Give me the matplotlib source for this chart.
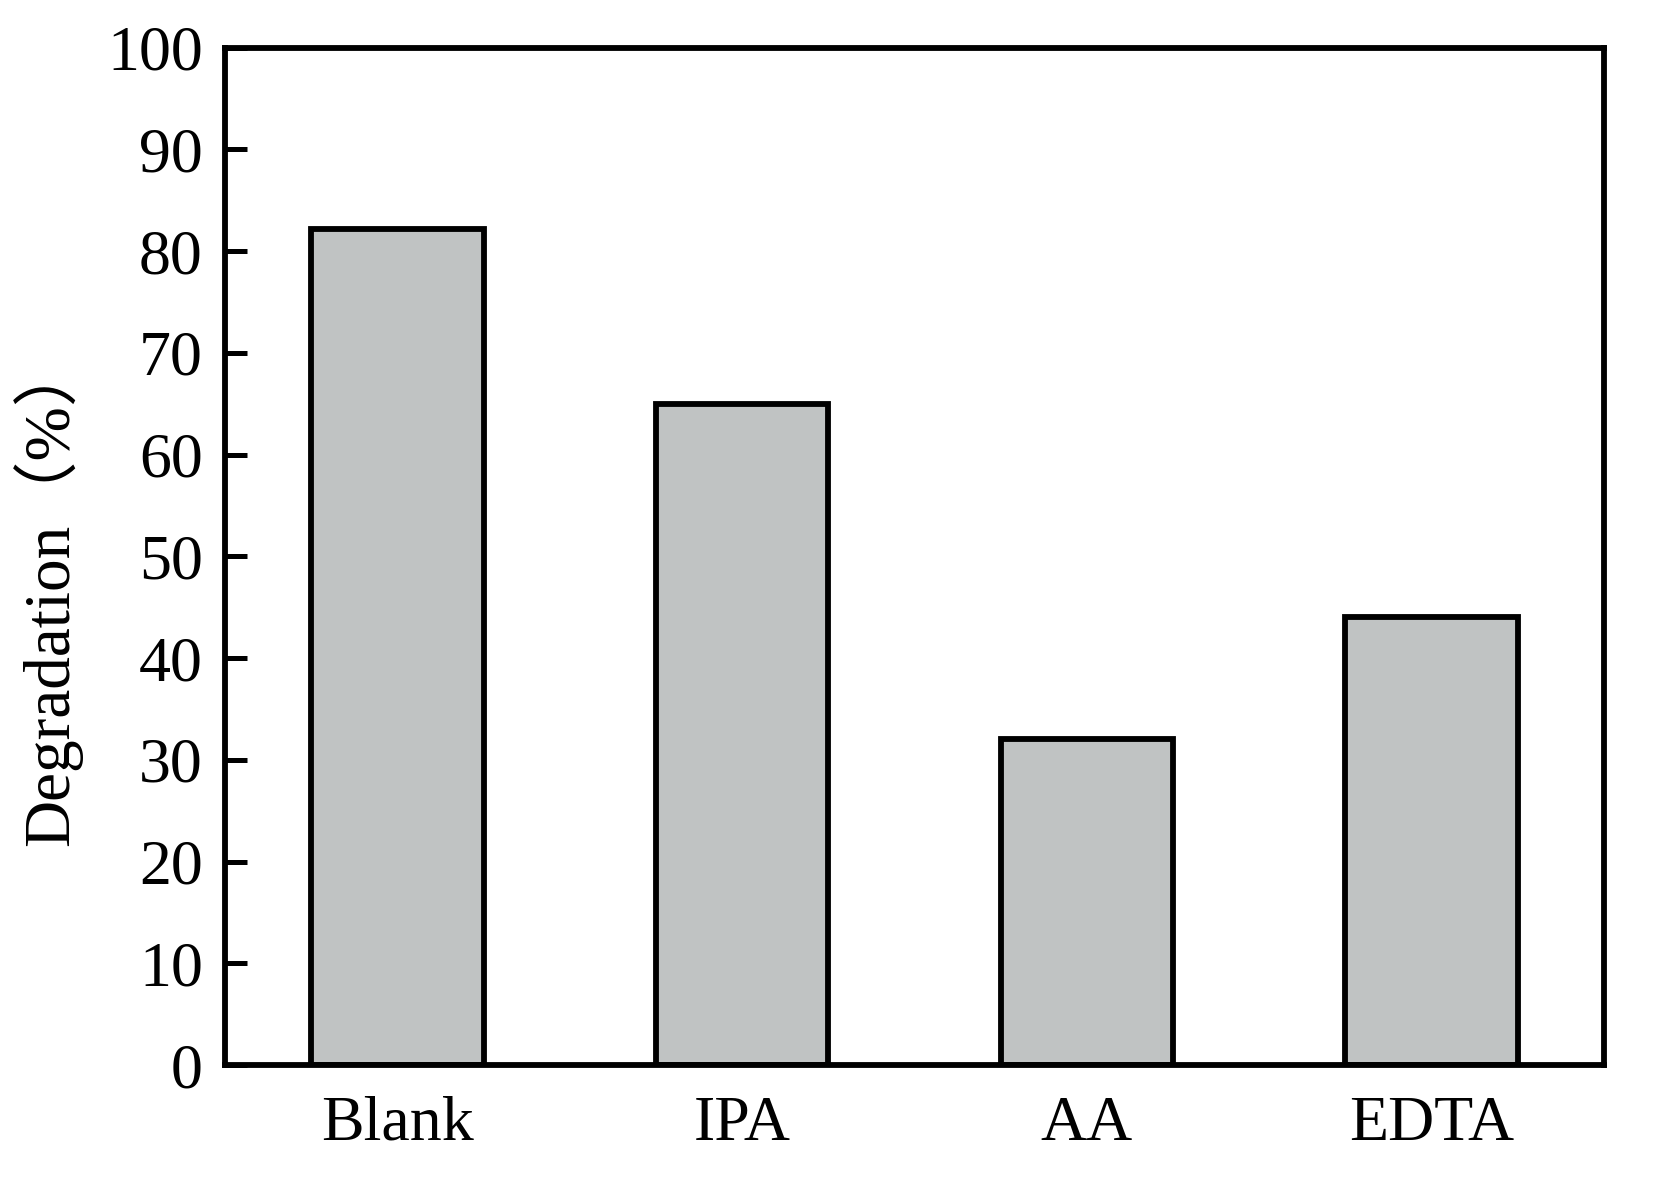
import matplotlib
matplotlib.use("Agg")
import matplotlib.pyplot as plt

categories = ["Blank", "IPA", "AA", "EDTA"]
degradation = [82.2, 65.0, 32.0, 44.0]
yticks = [0, 10, 20, 30, 40, 50, 60, 70, 80, 90, 100]

plt.rcParams['font.family'] = ['Liberation Serif', 'Noto Sans CJK SC', 'DejaVu Sans']

fig = plt.figure(figsize=(16.54, 11.83), dpi=100)
ax = fig.add_axes([225/1654, 1-1065/1183, (1604-225)/1654, (1065-47.7)/1183])

x = list(range(len(categories)))
ax.bar(x, degradation, width=0.5, color='#c0c3c3', edgecolor='black', linewidth=4.2)

ax.set_xlim(-0.5, 3.5)
ax.set_ylim(0, 100)
ax.set_yticks(yticks)
ax.set_yticklabels([str(t) for t in yticks])
ax.set_xticks(x)
ax.set_xticklabels(categories)

for s in ax.spines.values():
    s.set_linewidth(4.2)

ax.tick_params(axis='y', direction='in', length=16, width=3.6, labelsize=46, pad=16)
ax.tick_params(axis='x', length=0, labelsize=46, pad=22)

fig.text(47/1654, 1-592/1183, "Degradation（%）", rotation=90, ha='center', va='center', fontsize=47)

fig.savefig("out.png", dpi=100)
